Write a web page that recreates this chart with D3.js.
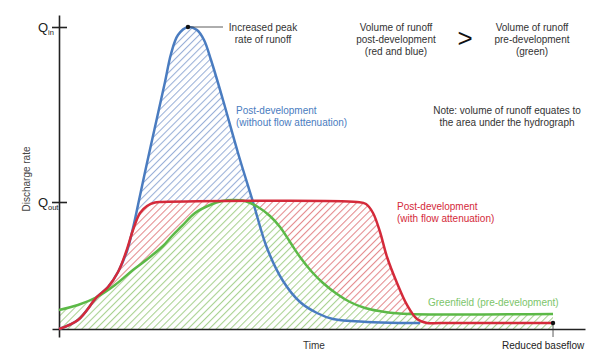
<!DOCTYPE html>
<html>
<head>
<meta charset="utf-8">
<script src="https://cdn.jsdelivr.net/npm/d3@7"></script>
<style>
  body { margin: 0; background: #fff; }
  svg { display: block; font-family: "Liberation Sans", Arial, sans-serif; }
</style>
</head>
<body>
<svg id="chart" width="600" height="361"></svg>
<script>
// ---- data (time units 0..100, discharge 0..100 where Qin = 100) ----
const blueT = [0, 3.61, 7.22, 9.32, 11.22, 12.93, 14.07, 15.02, 16.73, 18.63, 20.15, 21.29, 22.62, 24.52, 26.24, 27.57, 28.90, 31.18, 34.03, 36.88, 39.54, 42.59, 45.82, 49.05, 52.09, 58.56, 64.83, 68.63];
const blueV = [0, 2.98, 10.60, 13.91, 18.87, 25.83, 33.44, 41.06, 54.97, 69.87, 81.79, 91.06, 97.35, 100, 99.0, 95.7, 89.07, 75.83, 58.28, 42.05, 26.82, 15.89, 8.94, 5.30, 3.31, 2.32, 1.99, 1.99];

const redT = [0, 3.61, 7.22, 9.32, 11.22, 12.74, 14.07, 15.40, 16.73, 18.25, 19.58, 56.65, 58.37, 59.70, 61.03, 62.36, 64.26, 66.16, 68.06, 69.96, 72.43, 93.92];
const redV = [0, 2.98, 10.60, 13.91, 18.87, 25.50, 32.78, 38.41, 40.73, 41.89, 42.05, 42.05, 41.39, 38.41, 32.12, 23.84, 15.23, 7.95, 3.31, 1.99, 1.99, 1.99];

const greenT = [0, 3.61, 7.22, 10.65, 14.07, 17.30, 19.77, 21.48, 23.38, 25.86, 28.71, 30.99, 33.08, 35.36, 37.83, 40.11, 42.02, 43.92, 45.82, 48.10, 50.19, 52.85, 55.32, 58.17, 61.98, 66.73, 93.92];
const greenV = [6.29, 7.95, 10.60, 14.57, 19.54, 23.84, 27.48, 30.79, 34.11, 38.41, 41.06, 42.38, 42.72, 42.38, 40.40, 37.42, 33.77, 28.81, 23.84, 18.87, 15.23, 11.59, 8.94, 6.95, 5.63, 4.97, 4.97];

const yTickValues = [42.05, 100];
const yTickLabels = [["Q", "out"], ["Q", "in"]];
const peakPoint = [24.52, 100];
const baseflowPoint = [93.92, 1.99];

const svg = d3.select("#chart");
const x = d3.scaleLinear().domain([0, 100]).range([59, 585]);
const y = d3.scaleLinear().domain([0, 100]).range([329, 27]);

const colBlue = "#4a7cc0", colRed = "#d42a3a", colGreen = "#5cb947";
const hatchBlue = "#9ab0d8", hatchRed = "#e48a8d", hatchGreen = "#a9d291";

// hatch patterns
const defs = svg.append("defs");
function hatch(id, color) {
  const p = defs.append("pattern").attr("id", id)
    .attr("patternUnits", "userSpaceOnUse")
    .attr("width", 5).attr("height", 5)
    .attr("patternTransform", "rotate(45)");
  p.append("rect").attr("width", 5).attr("height", 5).attr("fill", "#fff");
  p.append("line").attr("x1", 0.5).attr("y1", 0).attr("x2", 0.5).attr("y2", 5)
    .attr("stroke", color).attr("stroke-width", 1.1);
}
hatch("hb", hatchBlue); hatch("hr", hatchRed); hatch("hg", hatchGreen);

const curve = d3.curveCatmullRom.alpha(0.5);
const zip = (T, V) => T.map((t, i) => [t, V[i]]);
const blue = zip(blueT, blueV), red = zip(redT, redV), green = zip(greenT, greenV);

const area = d3.area().x(d => x(d[0])).y0(y(0)).y1(d => y(d[1])).curve(curve);
const line = d3.line().x(d => x(d[0])).y(d => y(d[1])).curve(curve);

svg.append("path").datum(blue).attr("d", area).attr("fill", "url(#hb)");
svg.append("path").datum(red).attr("d", area).attr("fill", "url(#hr)");
svg.append("path").datum(green).attr("d", area).attr("fill", "url(#hg)");

// axes
const xAxisScale = d3.scaleLinear().domain([x.invert(52), x.invert(585)]).range([52, 585]);
svg.append("g").attr("transform", `translate(0,${y(0)})`)
  .call(d3.axisBottom(xAxisScale).tickValues([]).tickSizeOuter(0))
  .call(g => g.select(".domain").attr("stroke", "#222").attr("stroke-width", 1.6));

const yAxisScale = d3.scaleLinear().domain([y.invert(337), y.invert(15)]).range([337, 15]);
svg.append("g").attr("transform", `translate(${x(0)},0)`)
  .call(d3.axisLeft(yAxisScale).tickValues(yTickValues).tickSizeInner(7).tickSizeOuter(0).tickFormat(""))
  .call(g => g.select(".domain").attr("stroke", "#222").attr("stroke-width", 1.6))
  .call(g => g.selectAll(".tick line").attr("x1", 8).attr("stroke", "#222").attr("stroke-width", 1.6));

yTickValues.forEach((v, i) => {
  svg.append("text").attr("x", 48).attr("y", y(v) + 5)
    .attr("text-anchor", "end").attr("fill", "#222").attr("font-size", 13).text(yTickLabels[i][0]);
  svg.append("text").attr("x", 48).attr("y", y(v) + 8)
    .attr("text-anchor", "start").attr("fill", "#222").attr("font-size", 7.5).text(yTickLabels[i][1]);
});

// lines
svg.append("path").datum(blue).attr("d", line).attr("fill", "none").attr("stroke", colBlue).attr("stroke-width", 2.5);
svg.append("path").datum(green).attr("d", line).attr("fill", "none").attr("stroke", colGreen).attr("stroke-width", 2.5);
svg.append("path").datum(red).attr("d", line).attr("fill", "none").attr("stroke", colRed).attr("stroke-width", 2.5);

// annotations
svg.append("line").attr("x1", x(peakPoint[0])).attr("y1", y(peakPoint[1]))
  .attr("x2", 223).attr("y2", y(peakPoint[1])).attr("stroke", "#333").attr("stroke-width", 0.8);
svg.append("circle").attr("cx", x(peakPoint[0])).attr("cy", y(peakPoint[1])).attr("r", 2.2).attr("fill", "#111");

svg.append("line").attr("x1", x(baseflowPoint[0])).attr("y1", y(baseflowPoint[1]))
  .attr("x2", x(baseflowPoint[0])).attr("y2", 337).attr("stroke", "#333").attr("stroke-width", 0.8);
svg.append("circle").attr("cx", x(baseflowPoint[0])).attr("cy", y(baseflowPoint[1])).attr("r", 2.2).attr("fill", "#111");

function block(lines, cx, cy, color, anchor, size, gap) {
  const t = svg.append("text").attr("fill", color).attr("font-size", size || 10)
    .attr("text-anchor", anchor || "middle");
  lines.forEach((s, i) => t.append("tspan").attr("x", cx).attr("y", cy + i * (gap || 12)).text(s));
}
block(["Increased peak", "rate of runoff"], 263, 31, "#333");
block(["Volume of runoff", "post-development", "(red and blue)"], 396, 31, "#333");
block(["Volume of runoff", "pre-development", "(green)"], 532, 31, "#333");
svg.append("text").attr("x", 465).attr("y", 47).attr("text-anchor", "middle")
  .attr("font-size", 26).attr("fill", "#111").text(">");
block(["Note: volume of runoff equates to", "the area under the hydrograph"], 507, 114, "#333");
block(["Post-development", "(without flow attenuation)"], 236, 114, colBlue, "start");
block(["Post-development", "(with flow attenuation)"], 397, 210, colRed, "start");
block(["Greenfield (pre-development)"], 428, 306, "#7cc56a", "start");
block(["Time"], 314, 349, "#333");
block(["Reduced baseflow"], 502, 349, "#222", "start");

svg.append("text").attr("transform", "translate(30,179) rotate(-90)")
  .attr("text-anchor", "middle").attr("font-size", 10).attr("fill", "#444").text("Discharge rate");
</script>
</body>
</html>
